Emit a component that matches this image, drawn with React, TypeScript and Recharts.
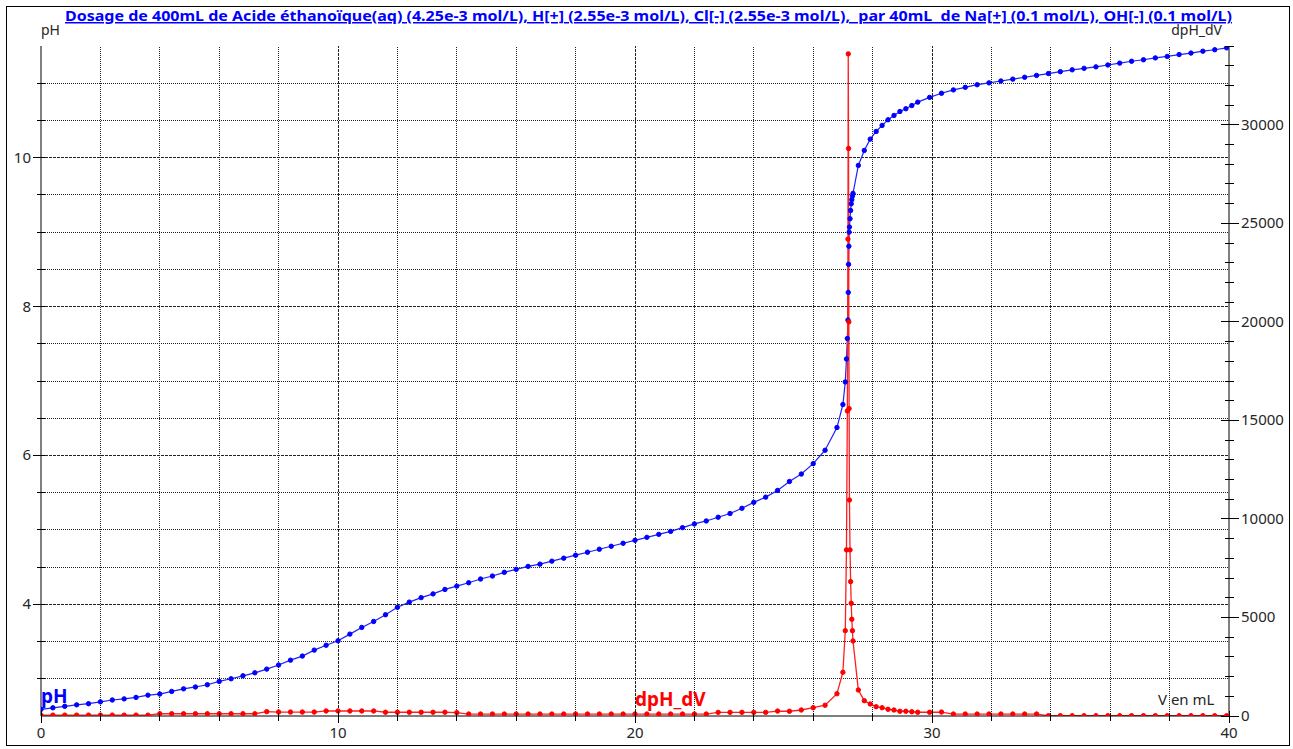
import { ComposedChart, Line, XAxis, YAxis, ReferenceLine } from "recharts";

// volume de soude versé (mL)
const volume = [
  0, 0.4, 0.8, 1.2, 1.6, 2, 2.4, 2.8, 3.2, 3.6,
  4, 4.4, 4.8, 5.2, 5.6, 6, 6.4, 6.8, 7.2, 7.6,
  8, 8.4, 8.8, 9.2, 9.6, 10, 10.4, 10.8, 11.2, 11.6,
  12, 12.4, 12.8, 13.2, 13.6, 14, 14.4, 14.8, 15.2, 15.6,
  16, 16.4, 16.8, 17.2, 17.6, 18, 18.4, 18.8, 19.2, 19.6,
  20, 20.4, 20.8, 21.2, 21.6, 22, 22.4, 22.8, 23.2, 23.6,
  24, 24.4, 24.8, 25.2, 25.6, 26, 26.4, 26.8,
  27, 27.08, 27.12, 27.15, 27.17, 27.18, 27.19, 27.2,
  27.21, 27.22, 27.24, 27.26, 27.28, 27.3, 27.32, 27.34,
  27.52, 27.72, 27.92, 28.12, 28.32, 28.52, 28.72, 28.92, 29.12, 29.32, 29.52,
  29.92, 30.32, 30.72, 31.12, 31.52, 31.92, 32.32, 32.72, 33.12, 33.52,
  33.92, 34.32, 34.72, 35.12, 35.52, 35.92, 36.32, 36.72, 37.12, 37.52,
  37.92, 38.32, 38.72, 39.12, 39.52, 39.92,
];

const phValues = [
  2.59, 2.61, 2.63, 2.65, 2.665, 2.69, 2.715, 2.73, 2.75, 2.78,
  2.795, 2.83, 2.865, 2.89, 2.92, 2.965, 3.0, 3.04, 3.08, 3.13,
  3.185, 3.25, 3.305, 3.385, 3.45, 3.51, 3.6, 3.69, 3.77, 3.86,
  3.96, 4.03, 4.09, 4.14, 4.2, 4.245, 4.29, 4.34, 4.38, 4.43,
  4.47, 4.51, 4.54, 4.58, 4.62, 4.66, 4.7, 4.74, 4.78, 4.82,
  4.86, 4.9, 4.94, 4.98, 5.03, 5.08, 5.12, 5.17, 5.22, 5.29,
  5.37, 5.44, 5.53, 5.65, 5.75, 5.89, 6.07, 6.375,
  6.684, 6.987, 7.296, 7.57, 7.82, 8.19, 8.567, 8.81,
  9.0, 9.068, 9.18, 9.29, 9.38, 9.436, 9.484, 9.52,
  9.896, 10.097, 10.249, 10.352, 10.433, 10.509, 10.567, 10.62, 10.657, 10.7, 10.746,
  10.81, 10.865, 10.91, 10.945, 10.98, 11.005, 11.03, 11.055, 11.08, 11.105,
  11.13, 11.155, 11.18, 11.2, 11.22, 11.245, 11.27, 11.295, 11.315, 11.34,
  11.36, 11.385, 11.405, 11.43, 11.45, 11.475,
];

const dphValues = [
  45, 45, 45, 45, 45, 45, 45, 45, 45, 45,
  115, 115, 115, 115, 115, 115, 115, 115, 115, 220,
  200, 200, 200, 200, 255, 255, 255, 255, 255, 190,
  190, 190, 190, 190, 190, 170, 100, 100, 100, 100,
  100, 100, 100, 100, 100, 100, 100, 100, 100, 100,
  100, 100, 100, 100, 100, 100, 100, 185, 185, 185,
  185, 185, 250, 240, 305, 420, 545, 1130,
  2220, 4330, 8430, 15480, 24200, 33600, 28800, 20000,
  15600, 10960, 8430, 6820, 5720, 4910, 4330, 3810,
  1320, 777, 610, 472, 420, 340, 305, 240, 240, 215, 190,
  190, 200, 100, 100, 100, 100, 100, 100, 100, 100,
  15, 15, 15, 15, 15, 15, 15, 15, 15, 15,
  15, 15, 15, 15, 15, 15,
];

const volumeTicks = [0, 2, 4, 6, 8, 10, 12, 14, 16, 18, 20, 22, 24, 26, 28, 30, 32, 34, 36, 38, 40];
const phTicks = [3, 3.5, 4, 4.5, 5, 5.5, 6, 6.5, 7, 7.5, 8, 8.5, 9, 9.5, 10, 10.5, 11];
const dphTicks = [
  0, 1000, 2000, 3000, 4000, 5000, 6000, 7000, 8000, 9000, 10000, 11000, 12000,
  13000, 14000, 15000, 16000, 17000, 18000, 19000, 20000, 21000, 22000, 23000,
  24000, 25000, 26000, 27000, 28000, 29000, 30000, 31000, 32000, 33000, 34000,
];

const data = volume.map((v, i) => ({ v, ph: phValues[i], dph: dphValues[i] }));

const FONT = "'Noto Sans', 'DejaVu Sans', sans-serif";
const INK = "#262626";

function LeftTick(props: any) {
  const { x, y, payload } = props;
  const major = payload.value % 2 === 0;
  return (
    <g>
      <line x1={major ? x - 8 : x - 4} x2={x + 4} y1={y} y2={y} stroke="#000" shapeRendering="crispEdges" />
      {major && (
        <text x={x - 10} y={y + 5} textAnchor="end" fontSize={15} fontFamily={FONT} fill={INK}>
          {payload.value}
        </text>
      )}
    </g>
  );
}

function RightTick(props: any) {
  const { x, y, payload } = props;
  const major = payload.value % 5000 === 0;
  return (
    <g>
      <line x1={major ? x - 8 : x - 4} x2={major ? x + 10 : x + 5} y1={y} y2={y} stroke="#000" shapeRendering="crispEdges" />
      {major && (
        <text x={x + 12} y={y + 5} textAnchor="start" fontSize={15} fontFamily={FONT} fill={INK}>
          {payload.value}
        </text>
      )}
    </g>
  );
}

function BottomTick(props: any) {
  const { x, y, payload } = props;
  const major = payload.value % 10 === 0;
  return (
    <g>
      <line x1={x} x2={x} y1={major ? y - 5 : y - 3} y2={major ? y + 7 : y + 5} stroke="#000" shapeRendering="crispEdges" />
      {major && (
        <text x={x} y={y + 22} textAnchor="middle" fontSize={15} fontFamily={FONT} fill={INK}>
          {payload.value}
        </text>
      )}
    </g>
  );
}

function TopTick(props: any) {
  const { x, y, payload } = props;
  const major = payload.value % 10 === 0;
  return (
    <line x1={x} x2={x} y1={major ? y - 8 : y - 4} y2={major ? y + 4 : y + 3} stroke="#000" shapeRendering="crispEdges" />
  );
}

export default function App() {
  return (
    <div style={{ position: "absolute", left: 0, top: 0, width: 1293, height: 749, background: "#fff" }}>
      <ComposedChart width={1293} height={749} data={data} margin={{ top: 46, right: 0, bottom: 0, left: 0 }}>
        <XAxis
          xAxisId="v"
          dataKey="v"
          type="number"
          domain={[0, 40]}
          ticks={volumeTicks}
          interval={0}
          height={33}
          tickSize={0}
          tickMargin={0}
          axisLine={{ stroke: "#000" }}
          tick={<BottomTick />}
          allowDataOverflow
        />
        <XAxis
          xAxisId="top"
          orientation="top"
          type="number"
          domain={[0, 40]}
          ticks={volumeTicks}
          interval={0}
          height={0}
          tickSize={0}
          tickMargin={0}
          axisLine={{ stroke: "#000" }}
          tick={<TopTick />}
        />
        <YAxis
          yAxisId="ph"
          type="number"
          domain={[2.5, 11.5]}
          ticks={phTicks}
          interval={0}
          width={41}
          tickSize={0}
          tickMargin={0}
          axisLine={{ stroke: "#000" }}
          tick={<LeftTick />}
          allowDataOverflow
        />
        <YAxis
          yAxisId="dph"
          orientation="right"
          type="number"
          domain={[0, 34000]}
          ticks={dphTicks}
          interval={0}
          width={64}
          tickSize={0}
          tickMargin={0}
          axisLine={{ stroke: "#000" }}
          tick={<RightTick />}
          allowDataOverflow
        />
        {volumeTicks
          .filter((t) => t > 0 && t < 40)
          .map((t) => (
            <ReferenceLine
              key={"vx" + t}
              xAxisId="v"
              yAxisId="ph"
              x={t}
              stroke="#222"
              strokeDasharray={t % 10 === 0 ? "3 1" : "1 1"}
              shapeRendering="crispEdges"
            />
          ))}
        {phTicks.map((t) => (
          <ReferenceLine
            key={"hy" + t}
            xAxisId="v"
            yAxisId="ph"
            y={t}
            stroke="#222"
            strokeDasharray={t % 2 === 0 ? "3 1" : "1 1"}
            shapeRendering="crispEdges"
          />
        ))}
        <Line
          xAxisId="v"
          yAxisId="ph"
          dataKey="ph"
          type="linear"
          stroke="#1f1fff"
          strokeWidth={1.2}
          dot={{ r: 2.2, fill: "#0000ff", stroke: "#0000ff", strokeWidth: 1 }}
          isAnimationActive={false}
        />
        <Line
          xAxisId="v"
          yAxisId="dph"
          dataKey="dph"
          type="linear"
          stroke="#ff1f1f"
          strokeWidth={1.3}
          dot={{ r: 2.2, fill: "#ff0000", stroke: "#ff0000", strokeWidth: 1 }}
          isAnimationActive={false}
        />
      </ComposedChart>
      <svg
        width={1293}
        height={749}
        style={{ position: "absolute", left: 0, top: 0, pointerEvents: "none" }}
      >
        <rect x={6.5} y={6.5} width={1283} height={739} fill="none" stroke="#000" />
        <text
          x={648.5}
          y={21}
          textAnchor="middle"
          fontFamily={FONT}
          fontWeight="bold"
          fontSize={15}
          fill="#0000ff"
          textDecoration="underline"
          textLength={1167}
          lengthAdjust="spacingAndGlyphs"
          style={{ whiteSpace: "pre" }}
        >
          {"Dosage de 400mL de Acide éthanoïque(aq) (4.25e-3 mol/L), H[+] (2.55e-3 mol/L), Cl[-] (2.55e-3 mol/L),  par 40mL  de Na[+] (0.1 mol/L), OH[-] (0.1 mol/L)"}
        </text>
        <text x={41} y={35} fontFamily={FONT} fontSize={14} fill={INK}>pH</text>
        <text x={1222} y={35} textAnchor="end" fontFamily={FONT} fontSize={14} fill={INK}>dpH_dV</text>
        <text x={41} y={703} fontFamily={FONT} fontSize={19} fontWeight="bold" fill="#0000ff">pH</text>
        <text x={635} y={706} fontFamily={FONT} fontSize={19} fontWeight="bold" fill="#ff0000">dpH_dV</text>
        <text x={1158} y={705} fontFamily={FONT} fontSize={15} fill={INK}>V en mL</text>
      </svg>
    </div>
  );
}
